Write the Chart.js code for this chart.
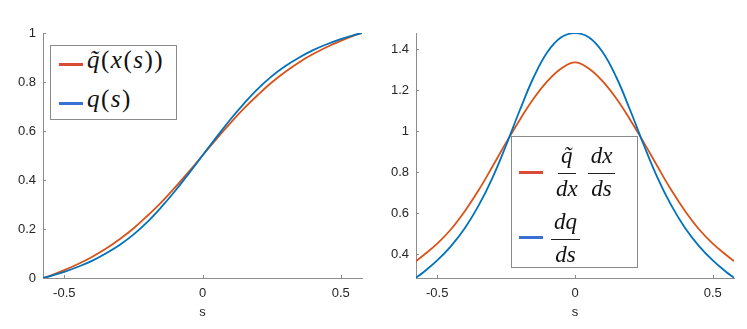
<!DOCTYPE html>
<html>
<head>
<meta charset="utf-8">
<script src="https://cdn.jsdelivr.net/npm/chart.js@4/dist/chart.umd.min.js"></script>
<style>
body { margin: 0; background: #fff; width: 747px; height: 329px; overflow: hidden; position: relative; }
canvas { position: absolute; top: 0; }
.legend { position: absolute; border: 1px solid #8a8a8a; background: #fff; box-sizing: border-box; }
.legend .ln { position: absolute; height: 3px; width: 24px; }
.math { position: absolute; font-family: "Liberation Serif", "DejaVu Serif", serif; font-size: 23px; color: #111; white-space: nowrap; }
.math.big { font-size: 25px; letter-spacing: 1.5px; }
.math i { font-style: italic; }
.frac { display: inline-flex; flex-direction: column; align-items: center; vertical-align: middle; margin-right: 7px; }
.frac .num { border-bottom: 1.5px solid #222; padding: 0 3px; line-height: 34px; height: 34px; }
.frac .den { line-height: 30px; height: 30px; padding: 0 3px; }
</style>
</head>
<body>
<canvas id="left" width="373" height="329" style="left:0"></canvas>
<canvas id="right" width="374" height="329" style="left:373px"></canvas>

<div class="legend" style="left:50px;top:45px;width:127px;height:75px">
  <div class="ln" style="left:8px;top:17px;background:#d94a38"></div>
  <div class="math big" style="left:36px;top:0px"><i>q̃</i>(<i>x</i>(<i>s</i>))</div>
  <div class="ln" style="left:8px;top:56px;background:#3a70d4"></div>
  <div class="math big" style="left:36px;top:39px"><i>q</i>(<i>s</i>)</div>
</div>

<div class="legend" style="left:511px;top:136px;width:127px;height:132px">
  <div class="ln" style="left:7px;top:34px;background:#d94a38"></div>
  <div class="math" style="left:41px;top:2px"><span class="frac"><span class="num"><i>q̃</i></span><span class="den"><i>dx</i></span></span><span class="frac"><span class="num"><i>dx</i></span><span class="den"><i>ds</i></span></span></div>
  <div class="ln" style="left:7px;top:99px;background:#3a70d4"></div>
  <div class="math" style="left:39px;top:68px"><span class="frac"><span class="num"><i>dq</i></span><span class="den"><i>ds</i></span></span></div>
</div>

<script>
// sample points along s
const sGrid = [-0.577, -0.55, -0.5, -0.45, -0.4, -0.35, -0.3, -0.25, -0.2, -0.15, -0.1, -0.05, 0,
               0.05, 0.1, 0.15, 0.2, 0.25, 0.3, 0.35, 0.4, 0.45, 0.5, 0.55, 0.577];

// left panel
const qTilde = [0, 0.010, 0.032, 0.057, 0.086, 0.119, 0.158, 0.202, 0.253, 0.308, 0.369, 0.433, 0.5,
                0.567, 0.631, 0.692, 0.747, 0.798, 0.842, 0.881, 0.914, 0.943, 0.968, 0.990, 1];
const qS = [0, 0.008, 0.025, 0.046, 0.070, 0.100, 0.135, 0.177, 0.228, 0.288, 0.354, 0.426, 0.5,
            0.574, 0.646, 0.712, 0.772, 0.823, 0.865, 0.900, 0.930, 0.954, 0.975, 0.992, 1];

// right panel
const dqTildeDs = [0.367, 0.395, 0.452, 0.522, 0.61, 0.712, 0.827, 0.945, 1.057, 1.16, 1.245, 1.307, 1.337,
                   1.307, 1.245, 1.16, 1.057, 0.945, 0.827, 0.712, 0.61, 0.522, 0.452, 0.395, 0.367];
const dqDs = [0.285, 0.312, 0.37, 0.44, 0.527, 0.637, 0.772, 0.932, 1.104, 1.264, 1.387, 1.459, 1.479,
              1.459, 1.387, 1.264, 1.104, 0.932, 0.772, 0.637, 0.527, 0.44, 0.37, 0.312, 0.285];

const xTicks = [-0.5, 0, 0.5];
const yTicksLeft = [0, 0.2, 0.4, 0.6, 0.8, 1];
const yTicksRight = [0.4, 0.6, 0.8, 1, 1.2, 1.4];

const red = '#d95319';
const blue = '#0072bd';
const axisColor = '#8c8c8c';
const textColor = '#262626';
const tickFont = { family: '"Liberation Sans", Arial, sans-serif', size: 13 };

const pts = ys => sGrid.map((s, i) => ({ x: s, y: ys[i] }));

// MATLAB style tick marks pointing into the axes
const innerTicks = {
    id: 'innerTicks',
    afterDraw(chart) {
        const { ctx, chartArea, scales } = chart;
        ctx.save();
        ctx.strokeStyle = axisColor;
        ctx.lineWidth = 1;
        scales.x.ticks.forEach(t => {
            const px = Math.round(scales.x.getPixelForValue(t.value)) + 0.5;
            ctx.beginPath();
            ctx.moveTo(px, chartArea.bottom);
            ctx.lineTo(px, chartArea.bottom - 3);
            ctx.stroke();
        });
        scales.y.ticks.forEach(t => {
            const py = Math.round(scales.y.getPixelForValue(t.value)) + 0.5;
            ctx.beginPath();
            ctx.moveTo(chartArea.left, py);
            ctx.lineTo(chartArea.left + 3, py);
            ctx.stroke();
        });
        ctx.restore();
    }
};

function makeChart(id, series, yMin, yMax, yTicks, padRight) {
    return new Chart(document.getElementById(id), {
        type: 'line',
        data: {
            datasets: [
                { data: pts(series[0]), borderColor: red, borderWidth: 1.8, order: 1 },
                { data: pts(series[1]), borderColor: blue, borderWidth: 1.8, order: 0 }
            ]
        },
        options: {
            responsive: false,
            animation: false,
            devicePixelRatio: 1,
            layout: { padding: { top: 33, right: padRight, bottom: 9, left: 0 } },
            elements: { point: { radius: 0 }, line: { tension: 0.4 } },
            plugins: { legend: { display: false }, tooltip: { enabled: false } },
            scales: {
                x: {
                    type: 'linear',
                    min: -0.577,
                    max: 0.577,
                    afterBuildTicks: s => { s.ticks = xTicks.map(v => ({ value: v })); },
                    afterFit: s => { s.height = 42; },
                    grid: { display: false, drawTicks: false },
                    border: { display: true, color: axisColor },
                    ticks: { color: textColor, font: tickFont, padding: 8, callback: v => String(v) },
                    title: { display: true, text: 's', color: textColor, font: tickFont, padding: 0 }
                },
                y: {
                    min: yMin,
                    max: yMax,
                    afterBuildTicks: s => { s.ticks = yTicks.map(v => ({ value: v })); },
                    afterFit: s => { s.width = 43; },
                    grid: { display: false, drawTicks: false },
                    border: { display: true, color: axisColor },
                    ticks: { color: textColor, font: tickFont, padding: 7, callback: v => String(v) }
                }
            }
        },
        plugins: [innerTicks]
    });
}

makeChart('left', [qTilde, qS], 0, 1, yTicksLeft, 11);
makeChart('right', [dqTildeDs, dqDs], 0.284, 1.48, yTicksRight, 13);
</script>
</body>
</html>
